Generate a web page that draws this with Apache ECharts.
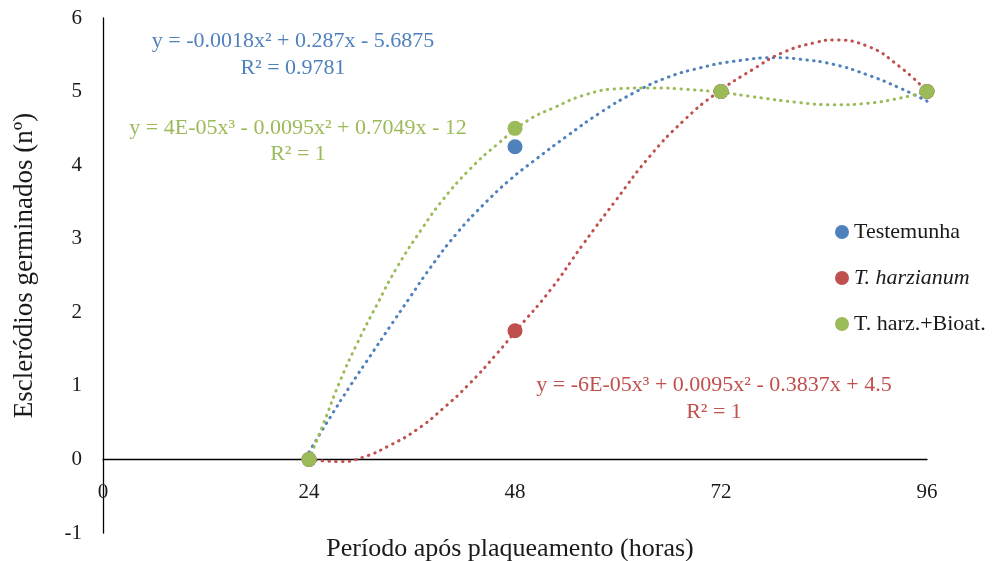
<!DOCTYPE html>
<html>
<head>
<meta charset="utf-8">
<script src="https://cdn.jsdelivr.net/npm/echarts@6/dist/echarts.min.js"></script>
<style>
    html, body { margin: 0; padding: 0; background: #fff; }
    #chart { width: 1002px; height: 561px; }
</style>
</head>
<body>
<div id="chart"></div>
<script>
// observed points
const hours = [24, 48, 72, 96]
const testemunha = [0, 4.25, 5, 5]
const harzianum = [0, 1.75, 5, 5]
const harzBioat = [0, 4.5, 5, 5]

// trendlines, [hours, value]
const trendTestemunha = [[24, 0.1], [26.4, 0.56], [28.8, 1.0], [31.1, 1.4], [33.4, 1.8], [35.8, 2.21],
    [38.1, 2.6], [41.2, 3.07], [44.3, 3.46], [47.4, 3.8], [50.1, 4.05], [54, 4.39], [57.9, 4.71],
    [61.8, 4.98], [65.7, 5.19], [69.5, 5.32], [73.4, 5.41], [78.5, 5.46], [81.2, 5.44], [85.1, 5.37],
    [89, 5.23], [92.8, 5.05], [96, 4.87]]
const trendHarzianum = [[24, 0], [27.6, -0.03], [30.3, 0.03], [33.4, 0.19], [36.5, 0.4], [39.6, 0.69],
    [42.7, 1.03], [45.9, 1.44], [48.2, 1.76], [52.1, 2.3], [55.9, 2.92], [59.8, 3.53], [63.7, 4.12],
    [67.6, 4.6], [71.5, 4.98], [75.7, 5.3], [79.2, 5.53], [83.1, 5.67], [85.1, 5.7], [89, 5.62],
    [92.8, 5.34], [96, 5.0]]
const trendHarzBioat = [[24, 0], [25.7, 0.49], [27.6, 1.06], [29.5, 1.55], [31.9, 2.1], [34.2, 2.6],
    [37.3, 3.16], [39.6, 3.53], [42.7, 3.94], [45.9, 4.28], [49.4, 4.6], [52.5, 4.78], [56.3, 4.96],
    [60.2, 5.04], [64.1, 5.05], [68, 5.03], [71.9, 4.99], [75.7, 4.93], [81.2, 4.85], [85.1, 4.82],
    [89, 4.84], [92.8, 4.91], [96, 5.0]]

const seriesNames = ['Testemunha', 'T. harzianum', 'T. harz.+Bioat.']
const colors = ['#4F81BD', '#C0504D', '#9BBB59']

const serif = "'Liberation Serif', 'Times New Roman', serif"

const chart = echarts.init(document.getElementById('chart'))

const toPoints = (vals) => hours.map((h, i) => [h, vals[i]])

const trendSeries = (data, color) => ({
    type: 'line',
    data: data,
    smooth: true,
    showSymbol: false,
    silent: true,
    z: 2,
    lineStyle: { color: color, width: 3, type: [0.5, 6.2], cap: 'round' }
})

const eqText = (text, x, y, color) => ({
    type: 'text',
    x: x,
    y: y,
    style: {
        text: text,
        fill: color,
        font: '22px ' + serif,
        textAlign: 'center',
        textVerticalAlign: 'middle'
    }
})

const option = {
    animation: false,
    grid: { left: 103, right: 75, top: 18, bottom: 28, outerBoundsMode: 'none', containLabel: false },
    legend: {
        data: seriesNames,
        orient: 'vertical',
        left: 830,
        top: 216,
        itemGap: 24,
        icon: 'circle',
        itemWidth: 14,
        itemHeight: 14,
        textStyle: {
            fontFamily: serif,
            fontSize: 22,
            color: '#1a1a1a',
            rich: { it: { fontFamily: serif, fontSize: 22, fontStyle: 'italic', color: '#1a1a1a' } }
        },
        formatter: name => name === 'T. harzianum' ? '{it|' + name + '}' : name
    },
    xAxis: {
        type: 'value',
        min: 0,
        max: 96,
        interval: 24,
        name: 'Período após plaqueamento (horas)',
        nameLocation: 'middle',
        nameGap: 3,
        nameTextStyle: { fontFamily: serif, fontSize: 26, color: '#1a1a1a', padding: [0, 10, 0, 0] },
        axisLine: { onZero: true, lineStyle: { color: '#000', width: 1.3 } },
        axisTick: { show: false },
        splitLine: { show: false },
        axisLabel: { margin: -51, fontFamily: serif, fontSize: 21, color: '#1a1a1a' }
    },
    yAxis: {
        type: 'value',
        min: -1,
        max: 6,
        interval: 1,
        name: 'Escleródios germinados (nº)',
        nameLocation: 'middle',
        nameGap: 65,
        nameTextStyle: { fontFamily: serif, fontSize: 27, color: '#1a1a1a', padding: [0, 0, 0, 20] },
        axisLine: { show: true, onZero: false, lineStyle: { color: '#000', width: 1.3 } },
        axisTick: { show: false },
        splitLine: { show: false },
        axisLabel: { margin: 21, fontFamily: serif, fontSize: 21, color: '#1a1a1a' }
    },
    graphic: [
        eqText('y = -0.0018x² + 0.287x - 5.6875', 293, 41, colors[0]),
        eqText('R² = 0.9781', 293, 68, colors[0]),
        eqText('y = 4E-05x³ - 0.0095x² + 0.7049x - 12', 298, 128, colors[2]),
        eqText('R² = 1', 298, 154, colors[2]),
        eqText('y = -6E-05x³ + 0.0095x² - 0.3837x + 4.5', 714, 385, colors[1]),
        eqText('R² = 1', 714, 412, colors[1])
    ],
    series: [
        trendSeries(trendTestemunha, colors[0]),
        trendSeries(trendHarzianum, colors[1]),
        trendSeries(trendHarzBioat, colors[2]),
        { name: seriesNames[0], type: 'scatter', data: toPoints(testemunha), symbolSize: 15, z: 5, itemStyle: { color: colors[0], opacity: 1 } },
        { name: seriesNames[1], type: 'scatter', data: toPoints(harzianum), symbolSize: 15, z: 5, itemStyle: { color: colors[1], opacity: 1 } },
        { name: seriesNames[2], type: 'scatter', data: toPoints(harzBioat), symbolSize: 15, z: 5, itemStyle: { color: colors[2], opacity: 1 } }
    ]
}

chart.setOption(option)
window.addEventListener('resize', () => {
    chart.resize()
})
</script>
</body>
</html>
